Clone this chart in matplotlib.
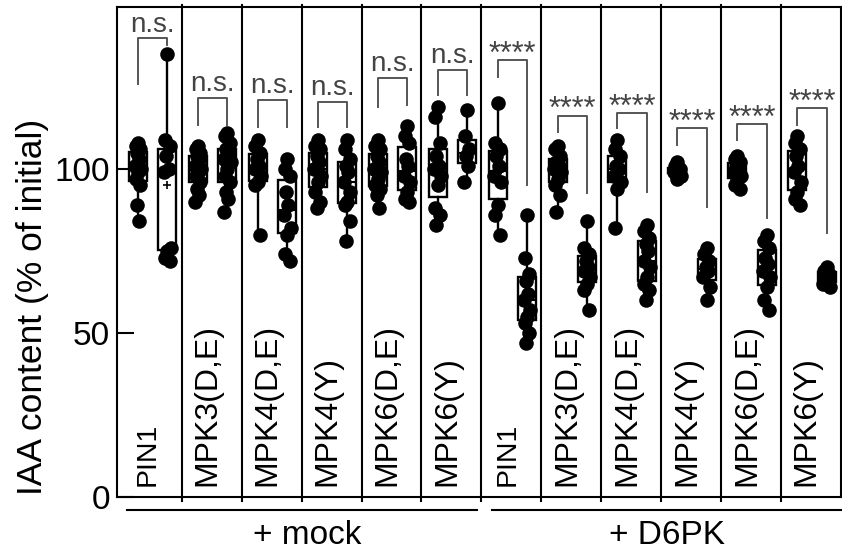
import numpy as np
import matplotlib
matplotlib.use('Agg')
import matplotlib.pyplot as plt
import matplotlib.transforms as mtransforms

plt.rcParams['font.family'] = ['Liberation Sans', 'DejaVu Sans']

# panel labels (6 constructs, with mock and with D6PK)
constructs = ['PIN1', 'MPK3(D,E)', 'MPK4(D,E)', 'MPK4(Y)', 'MPK6(D,E)', 'MPK6(Y)']
groups = ['+ mock', '+ D6PK']

# IAA content (% of initial); per panel: [without kinase, with kinase]
mock_ctrl = [
    [108, 107, 106, 105, 103, 101, 100, 99, 97, 95, 89, 84],
    [107, 106, 105, 104, 103, 101, 100, 99, 98, 96, 94, 92, 90],
    [109, 107, 105, 103, 101, 100, 98, 96, 95, 80],
    [109, 107, 106, 104, 102, 100, 98, 96, 93, 90, 88],
    [109, 107, 106, 104, 102, 100, 99, 97, 95, 94, 92, 88],
    [119, 116, 108, 104, 101, 100, 98, 95, 88, 86, 83],
]
mock_kin = [
    [135, 109, 107, 104, 100, 99, 76, 75, 73, 72],
    [111, 110, 108, 106, 105, 103, 102, 100, 98, 96, 93, 91, 87],
    [103, 100, 98, 93, 89, 86, 82, 80, 74, 72],
    [109, 106, 103, 101, 99, 96, 93, 90, 89, 84, 78],
    [113, 110, 108, 103, 101, 98, 96, 93, 91, 90],
    [118, 110, 106, 104, 101, 96],
]
d6pk_ctrl = [
    [120, 108, 106, 104, 101, 98, 96, 89, 86, 80],
    [107, 106, 104, 102, 101, 100, 99, 97, 95, 92, 87],
    [109, 106, 104, 101, 100, 98, 96, 94, 82],
    [102, 101, 100, 100, 99, 99, 98, 97],
    [104, 103, 102, 101, 100, 99, 98, 97, 95, 94],
    [110, 108, 106, 104, 101, 99, 96, 93, 91, 89],
]
d6pk_kin = [
    [86, 73, 68, 66, 62, 60, 57, 55, 53, 50, 47],
    [84, 76, 74, 72, 70, 69, 67, 65, 63, 57],
    [83, 81, 79, 77, 75, 72, 70, 67, 65, 63, 60],
    [76, 74, 72, 70, 69, 67, 64, 60],
    [80, 78, 76, 73, 71, 69, 67, 64, 60, 57],
    [70, 69, 68, 67, 66, 65, 64],
]

# significance: label, bracket top, left leg end, right leg end
sig_text = ['n.s.'] * 6 + ['****'] * 6
sig_top = [139.8, 121.6, 121.0, 120.5, 127.7, 130.3, 133.2, 116.3, 117.0, 112.5, 113.7, 118.5]
sig_left = [126.0, 113.4, 112.9, 112.9, 119.0, 122.6, 128.0, 111.4, 112.5, 107.3, 108.8, 113.4]
sig_right = [137.8, 113.4, 112.9, 112.9, 119.5, 122.6, 95.0, 92.6, 93.0, 88.5, 85.0, 80.5]

ctrl = mock_ctrl + d6pk_ctrl
kin = mock_kin + d6pk_kin
labels = constructs + constructs

fig = plt.figure(figsize=(8.42, 5.53), dpi=100)
ax = fig.add_axes([117 / 842, 1 - 497 / 553, 724 / 842, 490 / 553])

n = len(labels)
off_l, off_r = 0.27, 0.76
jit = [0, -0.04, 0.04, -0.02, 0.02, -0.055, 0.055]

for i in range(n):
    for vals, pos in [(ctrl[i], i + off_l), (kin[i], i + off_r)]:
        ax.boxplot([vals], positions=[pos], widths=0.3, whis=(0, 100),
                   patch_artist=True, showfliers=False, showmeans=True,
                   boxprops=dict(facecolor='white', edgecolor='black', linewidth=1.7),
                   whiskerprops=dict(color='black', linewidth=1.7),
                   capprops=dict(linewidth=0),
                   medianprops=dict(color='black', linewidth=1.5),
                   meanprops=dict(marker='+', markeredgecolor='black', markersize=6,
                                  markeredgewidth=1.2),
                   zorder=2)
        xs = [pos + jit[k % len(jit)] for k in range(len(vals))]
        ax.scatter(xs, vals, s=110, color='black', zorder=3, linewidths=0)

    # panel divider
    if i > 0:
        ax.plot([i, i], [-1.2, 150], color='black', lw=1.5, clip_on=False, zorder=1)

    # bracket
    xl, xr = i + off_l, i + off_r
    ax.plot([xl, xl, xr, xr], [sig_left[i], sig_top[i], sig_top[i], sig_right[i]],
            color='#555555', lw=1.4, zorder=4)
    if sig_text[i] == 'n.s.':
        ax.annotate('n.s.', xy=((xl + xr) / 2, sig_top[i]), xytext=(0, 5),
                    textcoords='offset points', ha='center', va='baseline',
                    fontsize=20, color='#444444')
    else:
        ax.annotate('****', xy=((xl + xr) / 2, sig_top[i]), xytext=(0, -2),
                    textcoords='offset points', ha='center', va='baseline',
                    fontsize=22, color='#444444')

    fs = 20.5 if labels[i] == 'PIN1' else 23
    ax.text(i + 0.43, 3.5, labels[i], rotation=90, ha='center', va='bottom',
            fontsize=fs)

ax.set_xlim(-0.08, 12)
ax.set_ylim(0, 149.4)
ax.set_yticks([0, 50, 100])
ax.set_xticks([])
ax.tick_params(axis='y', direction='in', length=12, width=1.5, labelsize=24, pad=5)
for s in ax.spines.values():
    s.set_linewidth(1.5)

fig.text(33 / 842, 1 - 307 / 553, 'IAA content (% of initial)', rotation=90,
         ha='center', va='center', fontsize=25.5)

# group lines below axis
trans = mtransforms.blended_transform_factory(ax.transData, ax.transAxes)
ax.plot([0.09, 5.93], [-0.027, -0.027], color='black', lw=1.5, transform=trans, clip_on=False)
ax.plot([6.17, 12], [-0.027, -0.027], color='black', lw=1.5, transform=trans, clip_on=False)
ax.text(3.1, -0.078, groups[0], transform=trans, ha='center', va='center', fontsize=24)
ax.text(9.1, -0.078, groups[1], transform=trans, ha='center', va='center', fontsize=24)

fig.savefig('out.png', dpi=100)
